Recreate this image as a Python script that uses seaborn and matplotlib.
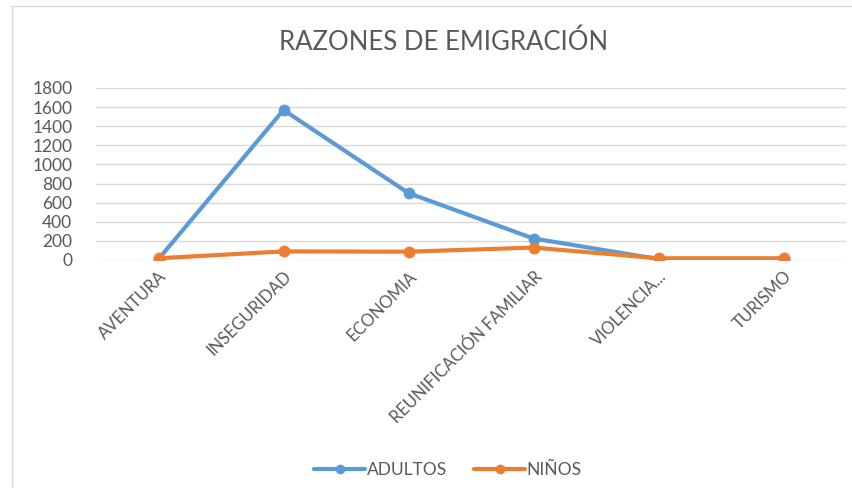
import matplotlib
matplotlib.use("Agg")
import matplotlib.pyplot as plt
from matplotlib.lines import Line2D
import seaborn as sns
import pandas as pd

# data
razones = ["AVENTURA", "INSEGURIDAD", "ECONOMIA", "REUNIFICACIÓN FAMILIAR",
           "VIOLENCIA...", "TURISMO"]
adultos = [10, 1570, 700, 225, 10, 10]
ninos = [18, 90, 87, 130, 18, 18]
y_ticks = [0, 200, 400, 600, 800, 1000, 1200, 1400, 1600, 1800]

colores = {"ADULTOS": "#5B9BD5", "NIÑOS": "#ED7D31"}
gris = "#595959"

df = pd.DataFrame({
    "razon": razones * 2,
    "pos": list(range(len(razones))) * 2,
    "valor": adultos + ninos,
    "grupo": ["ADULTOS"] * len(razones) + ["NIÑOS"] * len(razones),
})

sns.set_style("white")
plt.rcParams["font.family"] = ["Lato", "DejaVu Sans"]

fig = plt.figure(figsize=(8.52, 4.88), dpi=100)
ax = fig.add_axes([96 / 852, 1 - 260 / 488, 750 / 852, 172 / 488])

sns.lineplot(data=df, x="pos", y="valor", hue="grupo", palette=colores,
             marker="o", markersize=8.5, markeredgewidth=0, linewidth=3,
             legend=False, ax=ax, zorder=3)

ax.set_xlim(-0.5, len(razones) - 0.5)
ax.set_ylim(0, 1800)
ax.set_yticks(y_ticks)
ax.set_xticks(range(len(razones)))
ax.set_xticklabels(razones, rotation=45, ha="right", rotation_mode="anchor",
                   fontsize=12, color=gris)
ax.tick_params(axis="y", labelsize=12.5, colors=gris, length=0, pad=17)
ax.tick_params(axis="x", length=0, pad=6)
ax.set_xlabel("")
ax.set_ylabel("")
ax.grid(axis="y", color="#D9D9D9", linewidth=1)
ax.grid(axis="x", visible=False)
for s in ax.spines.values():
    s.set_visible(False)

fig.text(444 / 852, 1 - 42 / 488, "RAZONES DE EMIGRACIÓN", ha="center",
         va="center", fontsize=18.5, color=gris)

handles = [Line2D([0], [0], color=c, lw=3, marker="o", markersize=7,
                  markeredgewidth=0) for c in colores.values()]
fig.legend(handles, list(colores.keys()), loc="center",
           bbox_to_anchor=(448 / 852, 1 - 470 / 488), ncol=2, frameon=False,
           fontsize=12.5, labelcolor=gris, handlelength=2.9, columnspacing=1.6,
           handletextpad=0.1)

# chart frame (spreadsheet border)
fig.add_artist(Line2D([12 / 852, 12 / 852], [0, 1 - 6 / 488],
                      color="#D9D9D9", lw=1))
fig.add_artist(Line2D([12 / 852, 1], [1 - 6 / 488, 1 - 6 / 488],
                      color="#D9D9D9", lw=1))

fig.savefig("out.png", dpi=100)
